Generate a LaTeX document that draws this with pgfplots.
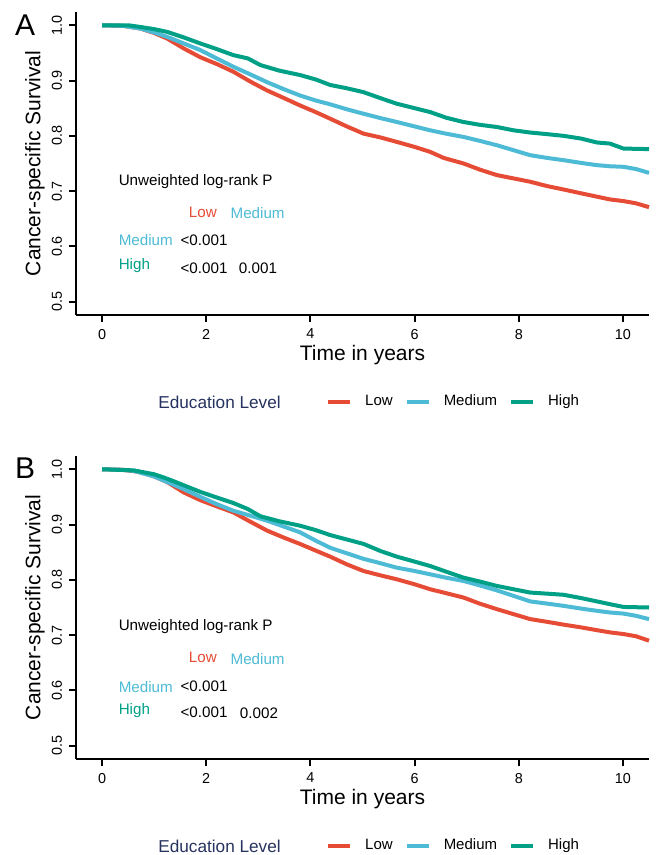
\documentclass[border=0pt]{standalone}
\usepackage{fontspec}
\setmainfont{Liberation Sans}
\usepackage{pgfplots}
\pgfplotsset{compat=1.18}
\usepackage{pgfplotstable}

\definecolor{lowc}{HTML}{E64B35}
\definecolor{medc}{HTML}{4DBBD5}
\definecolor{highc}{HTML}{00A087}
\definecolor{navy}{HTML}{26325F}

% Panel A curves (time, survival)
\pgfplotstableread{
t s
0 1.000
0.4 0.999
0.74 0.994
1.0 0.986
1.25 0.976
1.57 0.958
1.89 0.942
2.2 0.930
2.52 0.916
2.85 0.898
3.17 0.882
3.5 0.868
3.8 0.855
4.1 0.843
4.38 0.831
4.7 0.817
5.02 0.804
5.35 0.797
5.66 0.789
6.0 0.780
6.3 0.771
6.56 0.760
6.94 0.750
7.25 0.739
7.58 0.729
7.9 0.723
8.22 0.717
8.55 0.709
8.86 0.703
9.2 0.696
9.5 0.690
9.75 0.685
10.01 0.682
10.25 0.678
10.5 0.671
}\ALow
\pgfplotstableread{
t s
0 1.000
0.4 0.999
0.74 0.994
1.0 0.987
1.25 0.979
1.57 0.967
1.89 0.955
2.2 0.940
2.52 0.925
2.85 0.911
3.17 0.897
3.5 0.884
3.8 0.873
4.1 0.864
4.38 0.857
4.7 0.848
5.02 0.840
5.35 0.832
5.66 0.825
6.0 0.817
6.3 0.810
6.6 0.804
6.94 0.798
7.25 0.791
7.58 0.783
7.9 0.774
8.22 0.765
8.55 0.760
8.86 0.756
9.2 0.751
9.5 0.747
9.75 0.745
10.01 0.744
10.25 0.740
10.5 0.733
}\AMed
\pgfplotstableread{
t s
0 1.000
0.5 1.000
0.73 0.997
1.0 0.993
1.25 0.988
1.57 0.978
1.89 0.967
2.2 0.957
2.52 0.946
2.8 0.940
3.04 0.928
3.4 0.918
3.8 0.910
4.1 0.902
4.38 0.892
4.7 0.886
5.02 0.879
5.35 0.868
5.66 0.858
6.0 0.850
6.3 0.843
6.6 0.833
6.94 0.825
7.25 0.820
7.58 0.816
7.9 0.810
8.22 0.806
8.55 0.803
8.86 0.800
9.2 0.795
9.5 0.788
9.75 0.786
10.01 0.777
10.5 0.776
}\AHigh

% Panel B curves
\pgfplotstableread{
t s
0 1.000
0.4 0.999
0.74 0.995
1.0 0.987
1.25 0.977
1.57 0.958
1.89 0.944
2.2 0.933
2.52 0.922
2.85 0.905
3.17 0.889
3.5 0.876
3.8 0.865
4.1 0.853
4.38 0.842
4.7 0.828
5.02 0.816
5.35 0.808
5.66 0.801
6.0 0.792
6.3 0.783
6.6 0.776
6.94 0.768
7.25 0.757
7.58 0.747
7.9 0.738
8.22 0.729
8.55 0.724
8.86 0.719
9.2 0.714
9.5 0.709
9.75 0.705
10.01 0.702
10.25 0.698
10.5 0.690
}\BLow
\pgfplotstableread{
t s
0 1.000
0.4 0.999
0.61 0.997
1.0 0.987
1.25 0.977
1.57 0.964
1.89 0.950
2.2 0.937
2.52 0.925
2.85 0.916
3.17 0.907
3.5 0.896
3.8 0.886
4.1 0.871
4.38 0.858
4.7 0.848
5.02 0.838
5.35 0.830
5.66 0.822
6.0 0.816
6.3 0.810
6.6 0.804
6.94 0.798
7.25 0.790
7.58 0.781
7.9 0.771
8.22 0.761
8.55 0.757
8.86 0.753
9.2 0.748
9.5 0.744
9.75 0.741
10.01 0.739
10.25 0.735
10.5 0.729
}\BMed
\pgfplotstableread{
t s
0 1.000
0.61 0.998
1.0 0.991
1.25 0.983
1.57 0.971
1.89 0.959
2.2 0.949
2.52 0.939
2.8 0.928
3.04 0.915
3.4 0.906
3.8 0.898
4.1 0.890
4.38 0.881
4.7 0.873
5.02 0.865
5.35 0.852
5.66 0.842
6.0 0.833
6.3 0.825
6.6 0.815
6.94 0.804
7.25 0.797
7.58 0.789
7.9 0.783
8.22 0.777
8.55 0.775
8.86 0.773
9.2 0.767
9.5 0.761
9.75 0.756
10.01 0.751
10.5 0.750
}\BHigh

\pgfplotsset{
  kmaxis/.style={
    scale only axis, width=286.5pt, height=151.5pt,
    xmin=-0.5, xmax=10.5, ymin=0.476, ymax=1.024,
    axis x line*=bottom, axis y line*=left,
    axis line style={-, line width=1pt, black},
    xtick={0,2,4,6,8,10}, ytick={0.5,0.6,0.7,0.8,0.9,1.0},
    minor tick num=0,
    tick align=outside, major tick length=3.5pt,
    every tick/.style={black, line width=1pt},
    tick label style={font=\fontsize{7.2}{8}\selectfont},
    /pgf/number format/assume math mode=true,
    yticklabel style={/pgf/number format/fixed, /pgf/number format/fixed zerofill,
      /pgf/number format/precision=1, rotate=90, anchor=south},
    xticklabel style={anchor=north},
    xlabel={Time in years}, ylabel={Cancer-specific Survival},
    label style={font=\fontsize{10.5}{12}\selectfont},
    xlabel style={at={(axis description cs:0.5,-0.132)}, anchor=center},
    ylabel style={at={(axis description cs:-0.0716,0.5)}, anchor=center},
    clip=false,
    legend style={at={(axis description cs:0.436,-0.287)}, anchor=west,
      draw=none, fill=none, inner sep=0pt, legend columns=-1,
      font=\fontsize{7.5}{9}\selectfont,
      nodes={inner sep=0pt},
      /tikz/every even column/.append style={column sep=6pt},
      /tikz/every odd column/.append style={column sep=6.5pt}},
    legend image code/.code={\draw[##1] (0pt,0pt) -- (11pt,0pt);},
  },
  kmline/.style={line width=2pt, line join=round},
}
\tikzset{ann/.style={anchor=west, inner sep=0pt, font=\fontsize{7.6}{9}\selectfont}}

\begin{document}
\begin{tikzpicture}
\begin{axis}[kmaxis, at={(0pt,0pt)}, anchor=south west]
  \addplot[kmline, lowc] table {\ALow};
  \addlegendentry{Low}
  \addplot[kmline, medc] table {\AMed};
  \addlegendentry{Medium}
  \addplot[kmline, highc] table {\AHigh};
  \addlegendentry{High}
  \node[ann] at (axis cs:0.313,0.718) {Unweighted log-rank P};
  \node[ann, lowc] at (axis cs:1.66,0.662) {Low};
  \node[ann, medc] at (axis cs:2.46,0.660) {Medium};
  \node[ann, medc] at (axis cs:0.313,0.611) {Medium};
  \node[ann] at (axis cs:1.50,0.611) {<0.001};
  \node[ann, highc] at (axis cs:0.313,0.566) {High};
  \node[ann] at (axis cs:1.50,0.561) {<0.001};
  \node[ann] at (axis cs:2.62,0.561) {0.001};
  \node[anchor=west, inner sep=0pt, font=\fontsize{15}{18}\selectfont] at (axis description cs:-0.107,0.957) {A};
  \node[anchor=west, inner sep=0pt, text=navy, font=\fontsize{8.6}{10}\selectfont] at (axis description cs:0.143,-0.287) {Education Level};
\end{axis}
\begin{axis}[kmaxis, at={(0pt,-222pt)}, anchor=south west]
  \addplot[kmline, lowc] table {\BLow};
  \addlegendentry{Low}
  \addplot[kmline, medc] table {\BMed};
  \addlegendentry{Medium}
  \addplot[kmline, highc] table {\BHigh};
  \addlegendentry{High}
  \node[ann] at (axis cs:0.313,0.715) {Unweighted log-rank P};
  \node[ann, lowc] at (axis cs:1.66,0.659) {Low};
  \node[ann, medc] at (axis cs:2.46,0.657) {Medium};
  \node[ann, medc] at (axis cs:0.313,0.607) {Medium};
  \node[ann] at (axis cs:1.50,0.607) {<0.001};
  \node[ann, highc] at (axis cs:0.313,0.563) {High};
  \node[ann] at (axis cs:1.50,0.560) {<0.001};
  \node[ann] at (axis cs:2.64,0.558) {0.002};
  \node[anchor=west, inner sep=0pt, font=\fontsize{15}{18}\selectfont] at (axis description cs:-0.107,0.960) {B};
  \node[anchor=west, inner sep=0pt, text=navy, font=\fontsize{8.6}{10}\selectfont] at (axis description cs:0.143,-0.287) {Education Level};
\end{axis}
\pgfresetboundingbox
\path[use as bounding box] (-38pt,-270pt) rectangle (290.5pt,157.5pt);
\end{tikzpicture}
\end{document}
